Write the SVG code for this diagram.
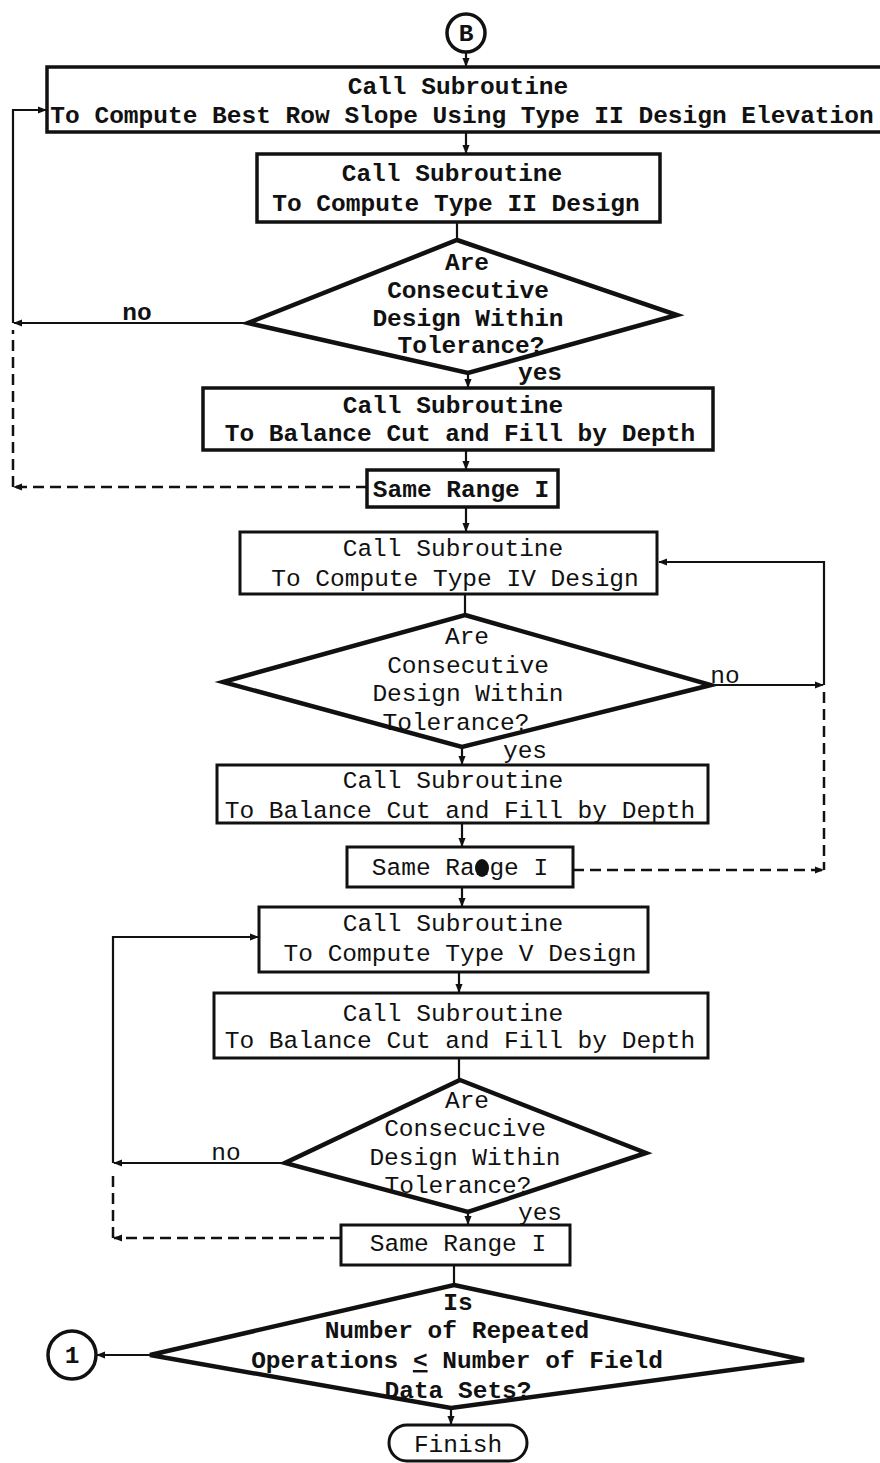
<svg xmlns="http://www.w3.org/2000/svg" width="880" height="1463" viewBox="0 0 880 1463">
<defs>
<marker id="ah" viewBox="0 0 10 10" refX="9" refY="5" markerWidth="9" markerHeight="9" markerUnits="userSpaceOnUse" orient="auto">
<path d="M0,1 L10,5 L0,9 z" fill="#111"/>
</marker>
</defs>
<style>
.bx{fill:#fff;stroke:#111;stroke-width:3.5}
.bn{fill:#fff;stroke:#111;stroke-width:3}
.dm{fill:#fff;stroke:#111;stroke-width:4.5;stroke-linejoin:miter}
.ln{fill:none;stroke:#111;stroke-width:2.2}
.ds{fill:none;stroke:#111;stroke-width:2.5;stroke-dasharray:11 6}
text{font-family:"Liberation Mono","DejaVu Sans Mono",monospace;font-size:24.5px;fill:#111;text-anchor:middle}
.b{font-weight:bold}
</style>
<rect width="880" height="1463" fill="#fff"/>
<g id="connectors">
<line class="ln" x1="466" y1="52" x2="466" y2="66" marker-end="url(#ah)"/>
<line class="ln" x1="466" y1="132" x2="466" y2="153" marker-end="url(#ah)"/>
<line class="ln" x1="457" y1="222" x2="457" y2="239"/>
<line class="ln" x1="468" y1="373" x2="468" y2="387" marker-end="url(#ah)"/>
<polyline class="ln" points="248,323 14,323" marker-end="url(#ah)"/>
<polyline class="ln" points="13,323 13,110 46,110" marker-end="url(#ah)"/>
<polyline class="ds" points="367,487 14,487" marker-end="url(#ah)"/>
<line class="ds" x1="13" y1="487" x2="13" y2="330"/>
<line class="ln" x1="466" y1="450" x2="466" y2="469" marker-end="url(#ah)"/>
<line class="ln" x1="466" y1="507" x2="466" y2="531" marker-end="url(#ah)"/>
<line class="ln" x1="465" y1="594" x2="465" y2="614"/>
<polyline class="ln" points="711,685 823,685" marker-end="url(#ah)"/>
<polyline class="ln" points="824,685 824,562 659,562" marker-end="url(#ah)"/>
<line class="ds" x1="824" y1="692" x2="824" y2="870"/>
<polyline class="ds" points="573,870 823,870" marker-end="url(#ah)"/>
<line class="ln" x1="462" y1="747" x2="462" y2="764" marker-end="url(#ah)"/>
<line class="ln" x1="462" y1="823" x2="462" y2="846" marker-end="url(#ah)"/>
<line class="ln" x1="462" y1="887" x2="462" y2="906" marker-end="url(#ah)"/>
<line class="ln" x1="459" y1="972" x2="459" y2="992" marker-end="url(#ah)"/>
<line class="ln" x1="459" y1="1058" x2="459" y2="1079"/>
<polyline class="ln" points="285,1163 114,1163" marker-end="url(#ah)"/>
<polyline class="ln" points="113,1163 113,937 258,937" marker-end="url(#ah)"/>
<line class="ln" x1="468" y1="1212" x2="468" y2="1224" marker-end="url(#ah)"/>
<polyline class="ds" points="341,1238 114,1238" marker-end="url(#ah)"/>
<line class="ds" x1="113" y1="1238" x2="113" y2="1170"/>
<line class="ln" x1="454" y1="1265" x2="454" y2="1285"/>
<polyline class="ln" points="150,1355 97,1355" marker-end="url(#ah)"/>
<line class="ln" x1="451" y1="1408" x2="451" y2="1424" marker-end="url(#ah)"/>
</g>
<g id="startB">
<circle cx="466" cy="33" r="19" fill="#fff" stroke="#111" stroke-width="3.5"/>
<text class="b" x="466" y="41" font-size="20">B</text>
</g>
<g id="box1">
<rect class="bx" x="47" y="67" width="840" height="65"/>
<text class="b" x="458" y="94">Call Subroutine</text>
<text class="b" x="462" y="123">To Compute Best Row Slope Using Type II Design Elevation</text>
</g>
<g id="box2">
<rect class="bx" x="257" y="154" width="403" height="68"/>
<text class="b" x="452" y="181">Call Subroutine</text>
<text class="b" x="456" y="211">To Compute Type II Design</text>
</g>
<g id="dec1">
<polygon class="dm" points="457,240 677,315 468,373 248,323"/>
<text class="b" x="467" y="270">Are</text>
<text class="b" x="468" y="298">Consecutive</text>
<text class="b" x="468" y="326">Design Within</text>
<text class="b" x="471" y="353">Tolerance?</text>
<text class="b" x="137" y="320">no</text>
<text class="b" x="540" y="380">yes</text>
</g>
<g id="box3">
<rect class="bx" x="203" y="388" width="510" height="62"/>
<text class="b" x="453" y="413">Call Subroutine</text>
<text class="b" x="460" y="441">To Balance Cut and Fill by Depth</text>
</g>
<g id="range1">
<rect class="bx" x="367" y="470" width="191" height="37"/>
<text class="b" x="461" y="497">Same Range I</text>
</g>
<g id="box4">
<rect class="bn" x="240" y="532" width="417" height="62"/>
<text x="453" y="556">Call Subroutine</text>
<text x="455" y="586">To Compute Type IV Design</text>
</g>
<g id="dec2">
<polygon class="dm" points="465,615 711,685 462,747 223,682"/>
<text x="467" y="644">Are</text>
<text x="468" y="673">Consecutive</text>
<text x="468" y="701">Design Within</text>
<text x="456" y="730">Tolerance?</text>
<text x="725" y="683">no</text>
<text x="525" y="758">yes</text>
</g>
<g id="box5">
<rect class="bn" x="217" y="765" width="491" height="58"/>
<text x="453" y="788">Call Subroutine</text>
<text x="460" y="818">To Balance Cut and Fill by Depth</text>
</g>
<g id="range2">
<rect class="bn" x="347" y="847" width="226" height="40"/>
<text x="460" y="875">Same Range I</text>
<ellipse cx="482" cy="868" rx="7" ry="9" fill="#111"/>
</g>
<g id="box6">
<rect class="bn" x="259" y="907" width="389" height="65"/>
<text x="453" y="931">Call Subroutine</text>
<text x="460" y="961">To Compute Type V Design</text>
</g>
<g id="box7">
<rect class="bn" x="214" y="993" width="494" height="65"/>
<text x="453" y="1021">Call Subroutine</text>
<text x="460" y="1048">To Balance Cut and Fill by Depth</text>
</g>
<g id="dec3">
<polygon class="dm" points="460,1080 646,1153 468,1212 285,1163"/>
<text x="467" y="1108">Are</text>
<text x="465" y="1136">Consecucive</text>
<text x="465" y="1165">Design Within</text>
<text x="458" y="1193">Tolerance?</text>
<text x="226" y="1160">no</text>
<text x="540" y="1220">yes</text>
</g>
<g id="range3">
<rect class="bn" x="341" y="1225" width="229" height="40"/>
<text x="458" y="1251">Same Range I</text>
</g>
<g id="dec4">
<polygon class="dm" points="454,1285 804,1360 451,1408 150,1355"/>
<text class="b" x="458" y="1310">Is</text>
<text class="b" x="457" y="1338">Number of Repeated</text>
<text class="b" x="457" y="1368">Operations <tspan text-decoration="underline">&lt;</tspan> Number of Field</text>
<text class="b" x="458" y="1398">Data Sets?</text>
</g>
<g id="conn1">
<circle cx="72" cy="1355" r="24" fill="#fff" stroke="#111" stroke-width="3.5"/>
<text class="b" x="72" y="1363">1</text>
</g>
<g id="finish">
<rect class="bn" x="389" y="1425" width="138" height="36" rx="18"/>
<text x="458" y="1452">Finish</text>
</g>
</svg>
